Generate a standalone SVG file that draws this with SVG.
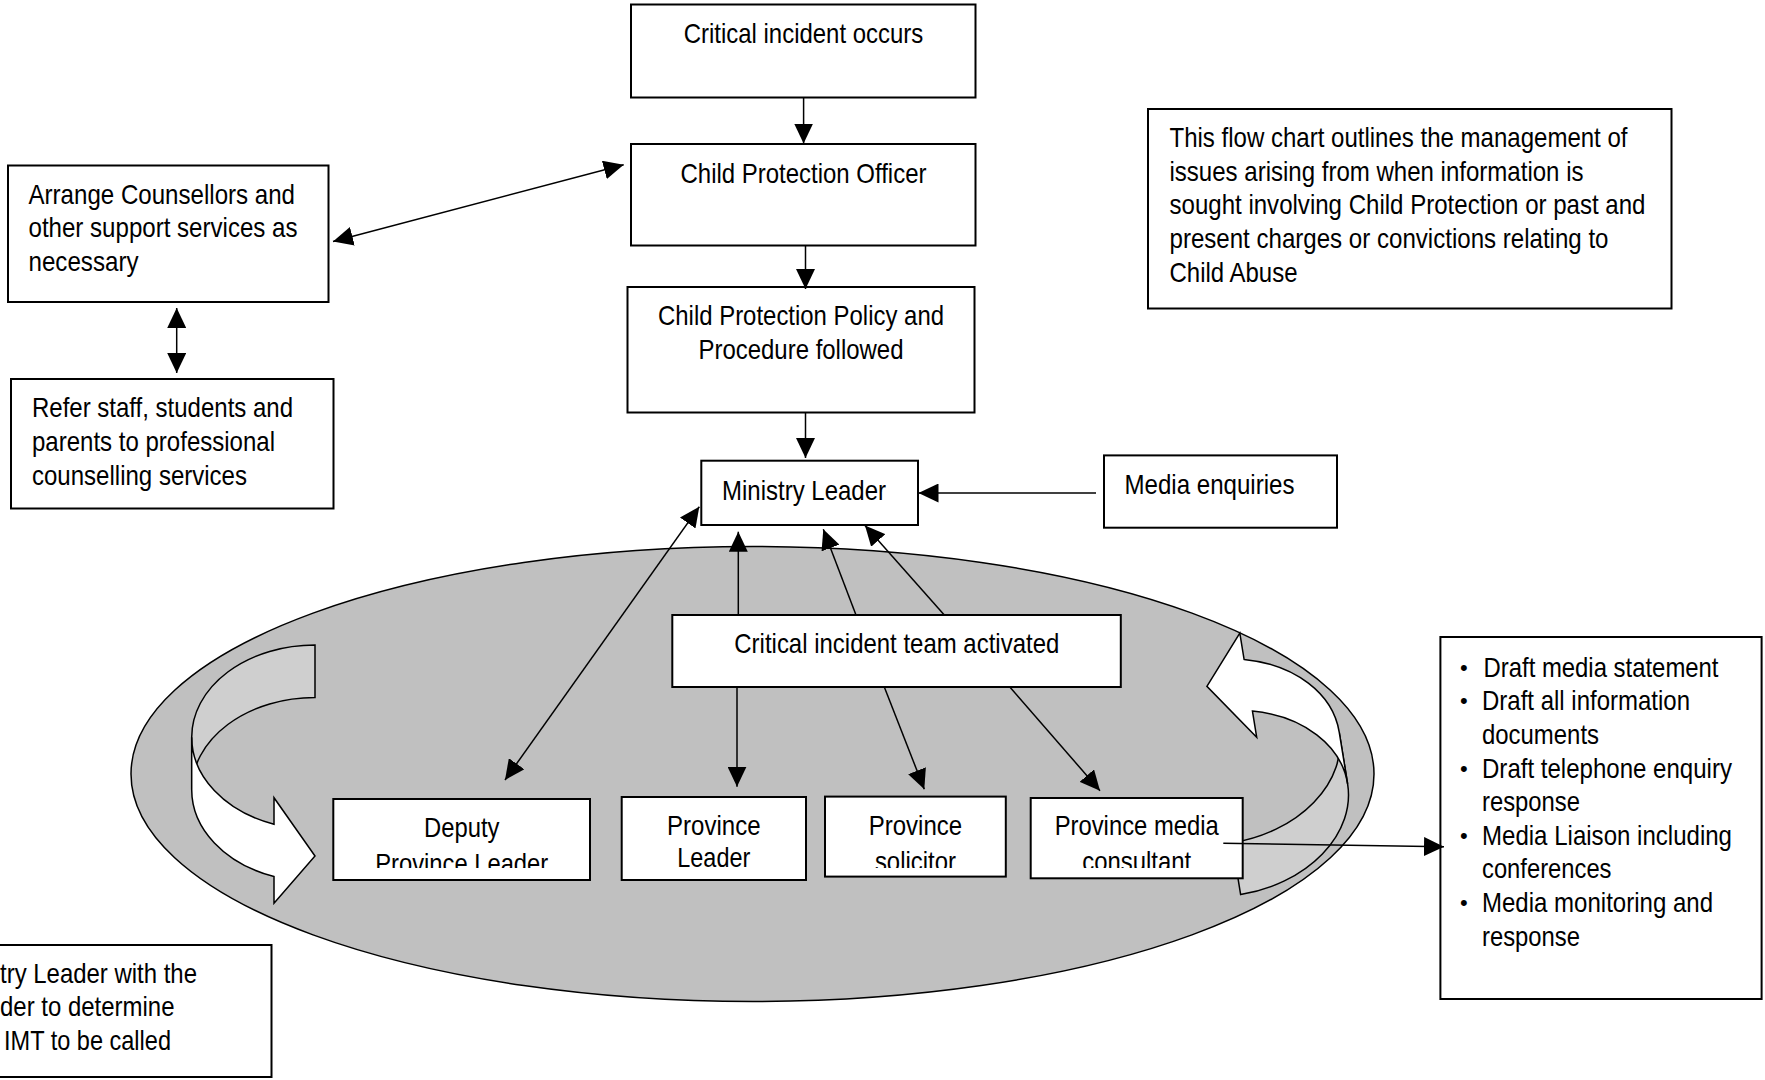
<svg xmlns="http://www.w3.org/2000/svg" width="1765" height="1080" viewBox="0 0 1765 1080">
<defs>
<style>
.box{fill:#fff;stroke:#000;stroke-width:2}
.t{font-family:'Liberation Sans Narrow','Arial Narrow','Liberation Sans',sans-serif;font-size:28px;fill:#000}
.c{text-anchor:middle}
.b{font-size:22px}
.ln{stroke:#000;stroke-width:1.5;fill:none}
.arr{marker-end:url(#ah)}
.dbl{marker-start:url(#ah);marker-end:url(#ah)}
.back{fill:#cfcfcf;stroke:#000;stroke-width:1.5}
.front{fill:#fff;stroke:#000;stroke-width:1.5}
</style>
<marker id="ah" markerUnits="userSpaceOnUse" markerWidth="20" markerHeight="19" refX="20" refY="9.5" orient="auto-start-reverse" viewBox="0 0 20 19">
<path d="M0,0 L20,9.5 L0,19 Z" fill="#000"/>
</marker>
<clipPath id="clipDep"><rect x="333" y="799" width="257" height="69"/></clipPath>
<clipPath id="clipPL"><rect x="622" y="797" width="184" height="71"/></clipPath>
<clipPath id="clipSol"><rect x="825" y="797" width="181" height="71"/></clipPath>
<clipPath id="clipMed"><rect x="1031" y="798" width="212" height="70"/></clipPath>
<g id="curvedArrowShape">
<path class="back" d="M315,645 A123.3,92.2 0 0 0 191.7,737.2 L191.7,789.7 A123.3,92.2 0 0 1 315,697.5 Z"/>
<path class="front" d="M191.7,737.2 A123.3,92.2 0 0 0 274,824.3 L274,797.7 L315,856 L274,903.3 L274,876.6 A123.3,92.2 0 0 1 191.7,789.7 Z"/>
</g>
</defs>

<g id="team-ellipse">
<ellipse cx="752.5" cy="774" rx="621.5" ry="227.5" fill="#c0c0c0" stroke="#000" stroke-width="1.5"/>
</g>

<g id="cycle-arrow-left">
<use href="#curvedArrowShape"/>
</g>
<g id="cycle-arrow-right">
<use href="#curvedArrowShape" transform="translate(1256.7,737.3) rotate(170.8) translate(-274,-797.7)"/>
</g>

<g id="critical-incident-occurs">
<rect class="box" x="631" y="4.5" width="344.5" height="93"/>
<text class="t c" x="803.5" y="42.5" textLength="239.5" lengthAdjust="spacingAndGlyphs">Critical incident occurs</text>
</g>

<g id="child-protection-officer">
<rect class="box" x="631" y="144" width="344.5" height="101.5"/>
<text class="t c" x="803.5" y="182.5" textLength="246" lengthAdjust="spacingAndGlyphs">Child Protection Officer</text>
</g>

<g id="child-protection-policy">
<rect class="box" x="627.5" y="287" width="347" height="125.5"/>
<text class="t c" x="801" y="325" textLength="286" lengthAdjust="spacingAndGlyphs">Child Protection Policy and</text>
<text class="t c" x="801" y="359" textLength="205" lengthAdjust="spacingAndGlyphs">Procedure followed</text>
</g>

<g id="ministry-leader">
<rect class="box" x="701.3" y="460.7" width="216.7" height="64.3"/>
<text class="t" x="722" y="499.5" textLength="164" lengthAdjust="spacingAndGlyphs">Ministry Leader</text>
</g>

<g id="media-enquiries">
<rect class="box" x="1104" y="455.4" width="233" height="72.3"/>
<text class="t" x="1124.5" y="493.7" textLength="170" lengthAdjust="spacingAndGlyphs">Media enquiries</text>
</g>

<g id="arrange-counsellors">
<rect class="box" x="8" y="165.5" width="320.5" height="136.5"/>
<text class="t" x="28.5" y="203.5" textLength="266.5" lengthAdjust="spacingAndGlyphs">Arrange Counsellors and</text>
<text class="t" x="28.5" y="237" textLength="269" lengthAdjust="spacingAndGlyphs">other support services as</text>
<text class="t" x="28.5" y="270.7" textLength="110" lengthAdjust="spacingAndGlyphs">necessary</text>
</g>

<g id="refer-staff">
<rect class="box" x="11" y="379" width="322.5" height="129.5"/>
<text class="t" x="32" y="417" textLength="261" lengthAdjust="spacingAndGlyphs">Refer staff, students and</text>
<text class="t" x="32" y="451" textLength="243" lengthAdjust="spacingAndGlyphs">parents to professional</text>
<text class="t" x="32" y="484.5" textLength="215" lengthAdjust="spacingAndGlyphs">counselling services</text>
</g>

<g id="flowchart-description">
<rect class="box" x="1148" y="109" width="523.5" height="199.5"/>
<text class="t" x="1169.5" y="147" textLength="458" lengthAdjust="spacingAndGlyphs">This flow chart outlines the management of</text>
<text class="t" x="1169.5" y="180.7" textLength="414" lengthAdjust="spacingAndGlyphs">issues arising from when information is</text>
<text class="t" x="1169.5" y="214.4" textLength="476" lengthAdjust="spacingAndGlyphs">sought involving Child Protection or past and</text>
<text class="t" x="1169.5" y="248.1" textLength="439" lengthAdjust="spacingAndGlyphs">present charges or convictions relating to</text>
<text class="t" x="1169.5" y="281.8" textLength="128" lengthAdjust="spacingAndGlyphs">Child Abuse</text>
</g>

<g id="critical-incident-team">
<rect class="box" x="672.3" y="615" width="448.5" height="72"/>
<text class="t" x="734.3" y="653.3" textLength="325" lengthAdjust="spacingAndGlyphs">Critical incident team activated</text>
</g>

<g id="deputy-province-leader">
<rect class="box" x="333.3" y="799" width="256.7" height="81"/>
<g clip-path="url(#clipDep)">
<text class="t c" x="461.7" y="836.5" textLength="75.5" lengthAdjust="spacingAndGlyphs">Deputy</text>
<text class="t c" x="461.7" y="872.7" textLength="173" lengthAdjust="spacingAndGlyphs">Province Leader</text>
</g>
</g>

<g id="province-leader">
<rect class="box" x="621.7" y="797" width="184.3" height="83"/>
<g clip-path="url(#clipPL)">
<text class="t c" x="713.8" y="834.5" textLength="93.4" lengthAdjust="spacingAndGlyphs">Province</text>
<text class="t c" x="713.8" y="867" textLength="73" lengthAdjust="spacingAndGlyphs">Leader</text>
</g>
</g>

<g id="province-solicitor">
<rect class="box" x="825" y="796.6" width="180.8" height="80"/>
<g clip-path="url(#clipSol)">
<text class="t c" x="915.4" y="834.5" textLength="93.4" lengthAdjust="spacingAndGlyphs">Province</text>
<text class="t c" x="915.4" y="871" textLength="81" lengthAdjust="spacingAndGlyphs">solicitor</text>
</g>
</g>

<g id="province-media-consultant">
<rect class="box" x="1030.7" y="798" width="212" height="80.3"/>
<g clip-path="url(#clipMed)">
<text class="t c" x="1136.7" y="835" textLength="164" lengthAdjust="spacingAndGlyphs">Province media</text>
<text class="t c" x="1136.7" y="871" textLength="109" lengthAdjust="spacingAndGlyphs">consultant</text>
</g>
</g>

<g id="media-tasks">
<rect class="box" x="1440.4" y="637" width="321.2" height="362"/>
<text class="t b" x="1460" y="674.8">•</text>
<text class="t" x="1483.5" y="676.8" textLength="235" lengthAdjust="spacingAndGlyphs">Draft media statement</text>
<text class="t b" x="1460" y="708.4">•</text>
<text class="t" x="1482" y="710.4" textLength="208" lengthAdjust="spacingAndGlyphs">Draft all information</text>
<text class="t" x="1482" y="744" textLength="117" lengthAdjust="spacingAndGlyphs">documents</text>
<text class="t b" x="1460" y="775.6">•</text>
<text class="t" x="1482" y="777.6" textLength="250" lengthAdjust="spacingAndGlyphs">Draft telephone enquiry</text>
<text class="t" x="1482" y="811.2" textLength="98" lengthAdjust="spacingAndGlyphs">response</text>
<text class="t b" x="1460" y="842.8">•</text>
<text class="t" x="1482" y="844.8" textLength="250" lengthAdjust="spacingAndGlyphs">Media Liaison including</text>
<text class="t" x="1482" y="878.4" textLength="129.5" lengthAdjust="spacingAndGlyphs">conferences</text>
<text class="t b" x="1460" y="910">•</text>
<text class="t" x="1482" y="912" textLength="231" lengthAdjust="spacingAndGlyphs">Media monitoring and</text>
<text class="t" x="1482" y="945.6" textLength="98" lengthAdjust="spacingAndGlyphs">response</text>
</g>

<g id="imt-note">
<rect class="box" x="-5" y="945" width="276.5" height="132"/>
<text class="t" x="0" y="982.5" textLength="197" lengthAdjust="spacingAndGlyphs">try Leader with the</text>
<text class="t" x="0" y="1016.4" textLength="174.5" lengthAdjust="spacingAndGlyphs">der to determine</text>
<text class="t" x="4" y="1050" textLength="167" lengthAdjust="spacingAndGlyphs">IMT to be called</text>
</g>

<g id="connectors">
<line class="ln arr" x1="803.6" y1="97.5" x2="803.6" y2="143.5"/>
<line class="ln arr" x1="805.5" y1="245.5" x2="805.5" y2="289"/>
<line class="ln arr" x1="805.5" y1="412.5" x2="805.5" y2="458"/>
<line class="ln dbl" x1="333" y1="241.4" x2="623.7" y2="164.8"/>
<line class="ln dbl" x1="176.7" y1="308" x2="176.7" y2="373"/>
<line class="ln arr" x1="1096" y1="493" x2="918.5" y2="493"/>
<line class="ln dbl" x1="505" y1="780" x2="699.3" y2="506.7"/>
<line class="ln arr" x1="738.3" y1="615" x2="738.3" y2="531.7"/>
<line class="ln arr" x1="856" y1="615" x2="823.3" y2="529.3"/>
<line class="ln arr" x1="944.3" y1="615" x2="865" y2="525.5"/>
<line class="ln arr" x1="737" y1="687" x2="737" y2="786.7"/>
<line class="ln arr" x1="884.3" y1="687" x2="924.3" y2="789.3"/>
<line class="ln arr" x1="1009.8" y1="687" x2="1100" y2="790.7"/>
<line class="ln arr" x1="1223.3" y1="843.3" x2="1444" y2="846.8"/>
</g>
</svg>
